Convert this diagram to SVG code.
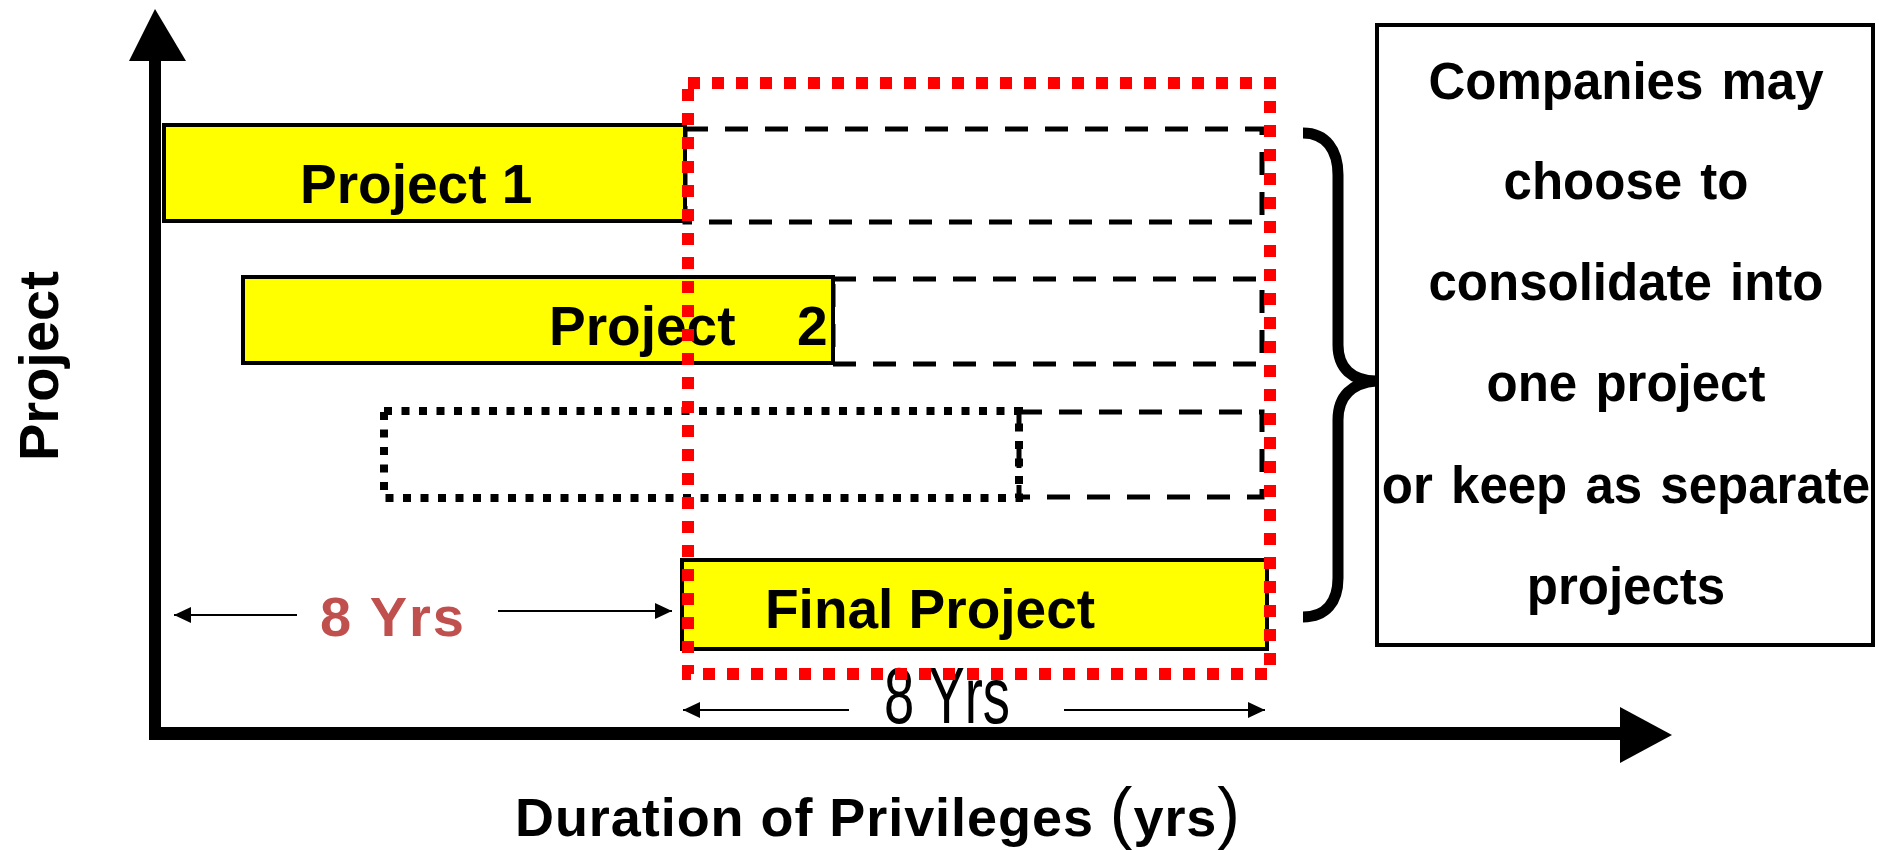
<svg xmlns="http://www.w3.org/2000/svg" width="1879" height="850" viewBox="0 0 1879 850">
<defs>
<style>
.bold{font-family:"Liberation Sans",Arial,sans-serif;font-weight:bold;fill:#000}
.yellow{fill:#FFFF00;stroke:#000;stroke-width:4}
.dash{fill:none;stroke:#000;stroke-width:5;stroke-dasharray:23 17}
.dot{fill:none;stroke:#000;stroke-width:8;stroke-dasharray:8 9.5}
.thin{stroke:#000;stroke-width:2;fill:none}
</style>
<marker id="ah" markerUnits="userSpaceOnUse" markerWidth="18" markerHeight="18" refX="17" refY="8" orient="auto">
<path d="M0,0 L17,8 L0,16 z" fill="#000"/>
</marker>
</defs>
<rect width="1879" height="850" fill="#fff"/>

<g id="connectors">
<line x1="155" y1="55" x2="155" y2="740" stroke="#000" stroke-width="12"/>
<line x1="149" y1="733.5" x2="1625" y2="733.5" stroke="#000" stroke-width="13"/>
<polygon points="155,9 129,61 186,61" fill="#000"/>
<polygon points="1620,707 1672,735 1620,763" fill="#000"/>
<line class="thin" x1="297" y1="615" x2="174" y2="615" marker-end="url(#ah)"/>
<line class="thin" x1="498" y1="611" x2="672" y2="611" marker-end="url(#ah)"/>
<line class="thin" x1="849" y1="710" x2="683" y2="710" marker-end="url(#ah)"/>
<line class="thin" x1="1064" y1="710" x2="1265" y2="710" marker-end="url(#ah)"/>
<path d="M1303,133 C1326,133 1338,150 1338,175 L1338,345 C1338,368 1352,381 1376,381 C1352,383 1338,396 1338,420 L1338,578 C1338,602 1326,617 1303,617" fill="none" stroke="#000" stroke-width="11"/>
</g>

<g id="project1-ext"><rect class="dash" x="685" y="129" width="577" height="93"/></g>
<g id="project2-ext"><rect class="dash" x="833" y="279" width="429" height="85"/></g>
<g id="project3"><rect class="dot" x="384" y="411" width="635" height="87"/></g>
<g id="project3-ext"><rect class="dash" x="1019" y="412" width="243" height="85"/></g>

<g id="project1">
<rect class="yellow" x="164" y="125" width="521" height="96"/>
<text class="bold" x="300" y="203" font-size="55">Project 1</text>
</g>
<g id="project2">
<rect class="yellow" x="243" y="277" width="590" height="86"/>
<text class="bold" x="549" y="345" font-size="55">Project<tspan x="797">2</tspan></text>
</g>
<g id="final-project">
<rect class="yellow" x="682" y="560" width="585" height="89"/>
<text class="bold" x="765" y="628" font-size="55">Final Project</text>
</g>

<g id="note">
<rect x="1377" y="25" width="496" height="620" fill="#fff" stroke="#000" stroke-width="4"/>
<g class="bold" font-size="51" text-anchor="middle" word-spacing="4">
<text x="1626" y="99">Companies may</text>
<text x="1626" y="199">choose to</text>
<text x="1626" y="300">consolidate into</text>
<text x="1626" y="401">one project</text>
<text x="1626" y="503">or keep as separate</text>
<text x="1626" y="604">projects</text>
</g>
</g>

<g id="labels">
<text class="bold" font-size="56" transform="translate(58,461) rotate(-90)">Project</text>
<text class="bold" x="515" y="836" font-size="54" textLength="725">Duration of Privileges <tspan font-weight="normal" font-size="68">(</tspan>yrs<tspan font-weight="normal" font-size="68">)</tspan></text>
<text x="320" y="636" font-family="Liberation Sans,Arial,sans-serif" font-weight="bold" font-size="56" fill="#C0504D" textLength="144">8 Yrs</text>
<text x="884" y="723" font-family="Liberation Sans,Arial,sans-serif" font-size="80" fill="#000" textLength="126" lengthAdjust="spacingAndGlyphs">8 Yrs</text>
</g>

<g id="consolidation-frame">
<rect x="688" y="83" width="582" height="591" fill="none" stroke="#FF0000" stroke-width="12" stroke-dasharray="12 12"/>
</g>
</svg>
